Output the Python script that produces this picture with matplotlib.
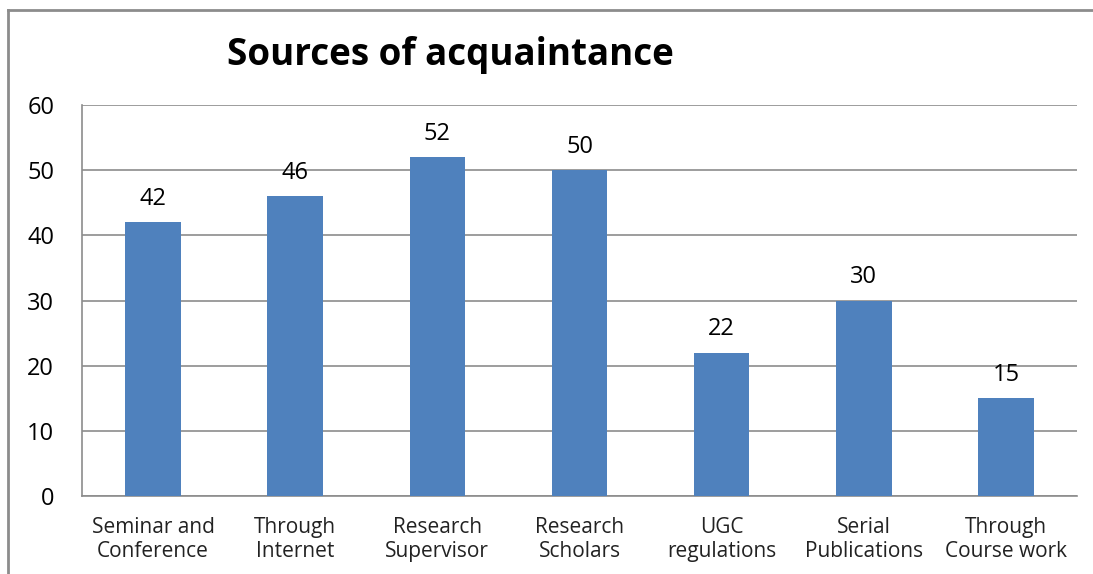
import numpy as np
import matplotlib.pyplot as plt
from matplotlib.lines import Line2D

categories = ["Seminar and\nConference", "Through\nInternet", "Research\nSupervisor",
              "Research\nScholars", "UGC\nregulations", "Serial\nPublications",
              "Through\nCourse work"]
values = [42, 46, 52, 50, 22, 30, 15]
yticks = [0, 10, 20, 30, 40, 50, 60]

plt.rcParams['font.family'] = ['Open Sans', 'DejaVu Sans']

W, H = 1093, 574
fig = plt.figure(figsize=(W / 100, H / 100), dpi=100)
ax = fig.add_axes([82 / W, 1 - 496 / H, (1077 - 82) / W, (496 - 105) / H])

x = np.arange(len(categories))
bars = ax.bar(x, values, width=0.39, color='#4F81BD', zorder=3)
for b, v in zip(bars, values):
    ax.text(b.get_x() + b.get_width() / 2, v + 3.6, str(v), ha='center', va='center',
            fontsize=17, color='#000000', zorder=4)

ax.set_xlim(-0.5, len(categories) - 0.5)
ax.set_ylim(0, 60)
ax.set_yticks(yticks)
ax.set_xticks(x)
ax.set_xticklabels(categories, fontsize=15, color='#222222', linespacing=1.2)
ax.tick_params(axis='y', labelsize=17, length=0, pad=20)
ax.tick_params(axis='x', length=0, pad=15)
ax.grid(axis='y', color='#8c8c8c', linewidth=1.2, zorder=0)
for s in ['top', 'right']:
    ax.spines[s].set_visible(False)
for s in ['left', 'bottom']:
    ax.spines[s].set_color('#8c8c8c')
    ax.spines[s].set_linewidth(1.2)

fig.text(450 / W, 1 - 55 / H, "Sources of acquaintance", ha='center', va='center',
         fontsize=26.5, fontweight='bold', color='#000000')

# outer chart frame (cut off at right and bottom)
fig.add_artist(Line2D([8 / W, 8 / W], [0, 1 - 10 / H], transform=fig.transFigure,
                      color='#8c8c8c', linewidth=2))
fig.add_artist(Line2D([8 / W, 1], [1 - 10 / H, 1 - 10 / H], transform=fig.transFigure,
                      color='#8c8c8c', linewidth=2))

fig.savefig('out.png', dpi=100)
